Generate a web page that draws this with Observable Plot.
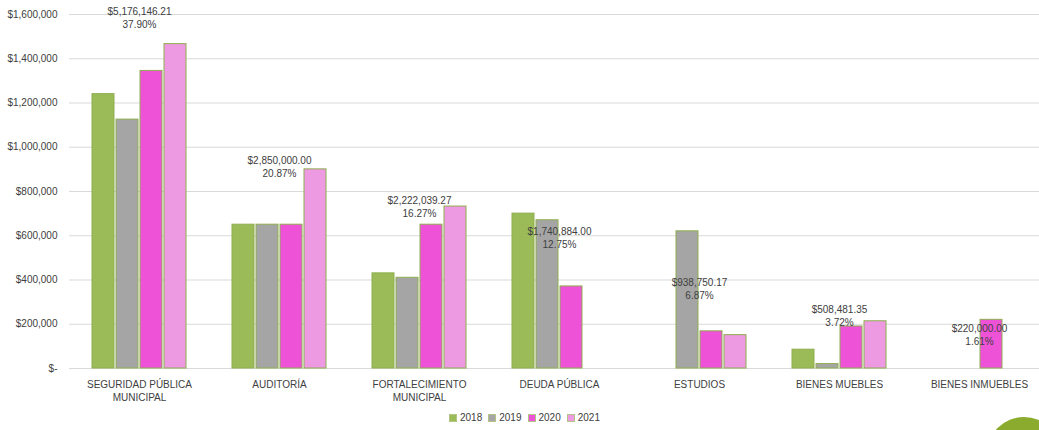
<!DOCTYPE html>
<html>
<head>
<meta charset="utf-8">
<script src="https://cdn.jsdelivr.net/npm/d3@7"></script>
<script src="https://cdn.jsdelivr.net/npm/@observablehq/plot@0.6"></script>
<style>
  html, body { margin: 0; padding: 0; background: #fff; overflow: hidden; }
  #wrap { position: relative; width: 1039px; height: 430px; overflow: hidden; font-family: "Liberation Sans", Arial, sans-serif; }
  #legend { display: flex; justify-content: center; align-items: center; height: 25px; font-size: 10px; color: #404040; padding-left: 10px; }
  .item { display: flex; align-items: center; margin: 0 3px; }
  .sw { width: 8px; height: 8px; border: 1px solid #b3c485; margin-right: 3px; box-sizing: border-box; }
  #deco { position: absolute; left: 987px; top: 417px; width: 74px; height: 74px; border-radius: 50%; background: #8aab2e; }
</style>
</head>
<body>
<div id="wrap">
  <div id="chart"></div>
  <div id="legend"></div>
  <div id="deco"></div>
</div>
<script>
const categories = ["SEGURIDAD PÚBLICA MUNICIPAL", "AUDITORÍA", "FORTALECIMIENTO MUNICIPAL", "DEUDA PÚBLICA", "ESTUDIOS", "BIENES MUEBLES", "BIENES INMUEBLES"];
const catLabels = ["SEGURIDAD PÚBLICA\nMUNICIPAL", "AUDITORÍA", "FORTALECIMIENTO\nMUNICIPAL", "DEUDA PÚBLICA", "ESTUDIOS", "BIENES MUEBLES", "BIENES INMUEBLES"];
const years = ["2018", "2019", "2020", "2021"];
const colors = ["#9bbb59", "#a5a5a5", "#ed52d7", "#ee9ae2"];
const v2018 = [1240000, 650000, 430000, 700000, null, 85000, null];
const v2019 = [1125000, 650000, 410000, 670000, 620000, 20000, null];
const v2020 = [1345000, 650000, 650000, 370884, 168000, 190000, 220000];
const v2021 = [1466146.21, 900000, 732039.27, null, 150750.17, 213481.35, null];
const yTicks = [0, 200000, 400000, 600000, 800000, 1000000, 1200000, 1400000, 1600000];

const series = [v2018, v2019, v2020, v2021];
const rows = [];
categories.forEach((c, i) => {
  years.forEach((yr, j) => {
    const v = series[j][i];
    if (v != null) rows.push({cat: c, year: yr, value: v});
  });
});
const totals = categories.map((c, i) => ({cat: c, total: d3.sum(series, s => s[i] || 0)}));
const grand = d3.sum(totals, d => d.total);
totals.forEach(d => d.pct = d.total / grand * 100);

const money = d3.format(",.2f");
const yFmt = d => d === 0 ? "$-" : "$" + d3.format(",")(d);

const chart = Plot.plot({
  width: 1039,
  height: 405,
  marginLeft: 69,
  marginRight: -10,
  marginTop: 14,
  marginBottom: 37,
  style: {fontFamily: "'Liberation Sans', Arial, sans-serif", fontSize: "10px", color: "#404040", background: "#fff"},
  fx: {domain: categories, padding: 0, label: null},
  x: {domain: years, paddingInner: 0.08, paddingOuter: 0.93, axis: null},
  y: {domain: [0, 1600000], label: null},
  color: {domain: years, range: colors},
  marks: [
    Plot.gridY(yTicks, {stroke: "#d9d9d9", strokeOpacity: 1, strokeWidth: 1}),
    Plot.axisY(yTicks, {tickSize: 0, tickPadding: 12, tickFormat: yFmt, label: null, fill: "#404040", fontSize: 10}),
    Plot.axisFx({anchor: "bottom", tickSize: 0, tickPadding: 10, lineAnchor: "top", lineHeight: 1.3, label: null,
      tickFormat: d => catLabels[categories.indexOf(d)], fill: "#404040", fontSize: 10}),
    Plot.barY(rows, {fx: "cat", x: "year", y: "value", fill: "year", stroke: "#8fae4f", strokeWidth: 1}),
    Plot.text(totals, {fx: "cat", y: d => d.total * 0.2885 + 92000,
      text: d => "$" + money(d.total) + "\n" + d.pct.toFixed(2) + "%",
      lineHeight: 1.3, fill: "#404040", fontSize: 10})
  ]
});
document.getElementById("chart").appendChild(chart);

const legend = document.getElementById("legend");
years.forEach((yr, j) => {
  const it = document.createElement("div");
  it.className = "item";
  const sw = document.createElement("div");
  sw.className = "sw";
  sw.style.background = colors[j];
  const t = document.createElement("span");
  t.textContent = yr;
  it.appendChild(sw);
  it.appendChild(t);
  legend.appendChild(it);
});
</script>
</body>
</html>
